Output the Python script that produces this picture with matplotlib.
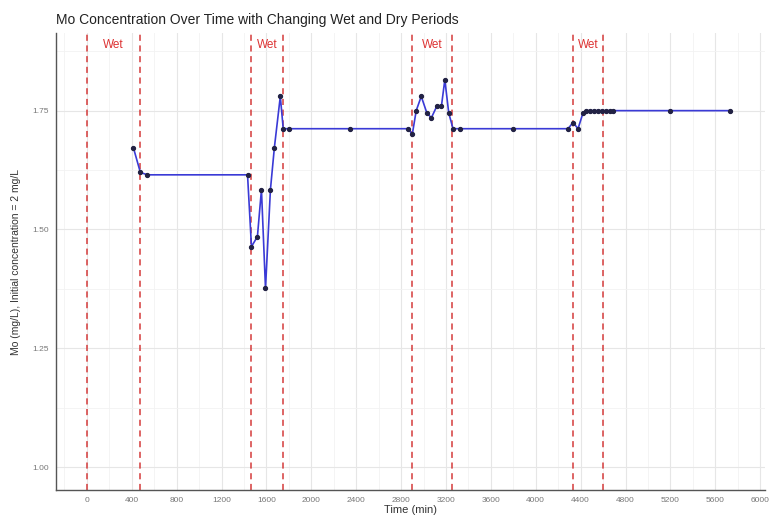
import matplotlib
matplotlib.use("Agg")
import matplotlib.pyplot as plt
from matplotlib.ticker import MultipleLocator

plt.rcParams['font.family'] = ['Liberation Sans', 'DejaVu Sans']

# Sampling times (min) and measured Mo concentration (mg/L)
time_min = [415, 477, 540, 1432, 1467, 1520, 1556, 1592, 1636, 1671, 1724,
            1750, 1804, 2343, 2865, 2900, 2935, 2980, 3030, 3070, 3120, 3160,
            3190, 3225, 3263, 3325, 3800, 4288, 4332, 4377, 4421, 4447, 4482,
            4518, 4553, 4589, 4624, 4660, 4686, 5199, 5730]
mo_conc = [1.672, 1.62, 1.615, 1.615, 1.464, 1.485, 1.584, 1.376, 1.584, 1.672,
           1.78, 1.712, 1.712, 1.712, 1.712, 1.70, 1.75, 1.78, 1.745, 1.735,
           1.76, 1.76, 1.815, 1.745, 1.712, 1.712, 1.712, 1.712, 1.725, 1.712,
           1.745, 1.75, 1.75, 1.75, 1.75, 1.75, 1.75, 1.75, 1.75, 1.75, 1.75]

# Wet period boundaries (start, end) in minutes
wet_starts = [0, 1465, 2900, 4335]
wet_ends = [470, 1750, 3250, 4600]
wet_label = "Wet"

x_ticks = list(range(0, 6001, 400))
y_ticks = [1.00, 1.25, 1.50, 1.75]

fig = plt.figure(figsize=(7.72, 5.18), dpi=100)
ax = fig.add_axes([0.0725, 0.054, 0.918, 0.882])

ax.set_xlim(-275, 6040)
ax.set_ylim(0.952, 1.913)

ax.xaxis.set_major_locator(MultipleLocator(400))
ax.xaxis.set_minor_locator(MultipleLocator(200))
ax.yaxis.set_minor_locator(MultipleLocator(0.125))
ax.set_xticks(x_ticks)
ax.set_yticks(y_ticks)
ax.set_yticklabels([f"{v:.2f}" for v in y_ticks])

ax.grid(which='major', color='#e6e6e6', linewidth=0.8)
ax.grid(which='minor', color='#f2f2f2', linewidth=0.6)
ax.set_axisbelow(True)

for side in ['top', 'right']:
    ax.spines[side].set_visible(False)
for side in ['left', 'bottom']:
    ax.spines[side].set_color('#555555')
    ax.spines[side].set_linewidth(1.0)

ax.tick_params(which='both', length=0, colors='#777777', labelsize=6, pad=5)

for s, e in zip(wet_starts, wet_ends):
    ax.axvline(s, color='#d43a3a', linestyle=(0, (4, 3)), linewidth=1.1, zorder=2)
    ax.axvline(e, color='#d43a3a', linestyle=(0, (4, 3)), linewidth=1.1, zorder=2)
    ax.text((s + e) / 2, 1.888, wet_label, color='#dd3333', ha='center',
            va='center', fontsize=8.5)

ax.plot(time_min, mo_conc, color='#3a3ad6', linewidth=1.2, zorder=3)
ax.plot(time_min, mo_conc, linestyle='none', marker='o', markersize=2.8,
        color='#222244', zorder=4)

ax.set_xlabel("Time (min)", fontsize=8, color='#333333', labelpad=1)
ax.set_ylabel("Mo (mg/L), Initial concentration = 2 mg/L", fontsize=7.5,
              color='#333333', labelpad=8)
fig.text(0.072, 0.962, "Mo Concentration Over Time with Changing Wet and Dry Periods",
         fontsize=10, color='#222222', ha='left', va='center')

fig.savefig("out.png", dpi=100)
